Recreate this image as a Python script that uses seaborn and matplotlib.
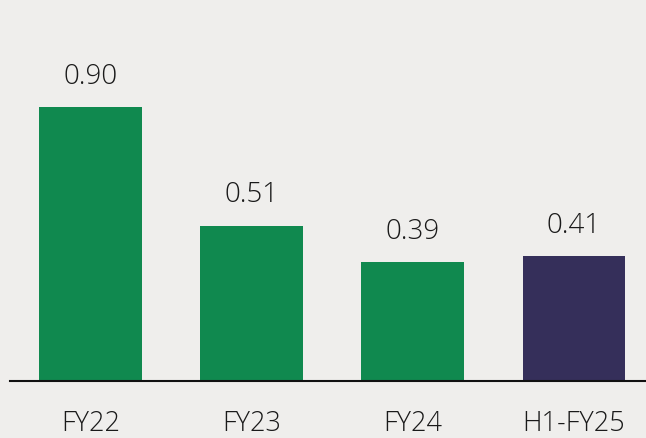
import matplotlib
matplotlib.use("Agg")
import matplotlib.pyplot as plt
import seaborn as sns
import pandas as pd

# --- data ---
periods = ["FY22", "FY23", "FY24", "H1-FY25"]
values = [0.90, 0.51, 0.39, 0.41]
bar_colors = ["#10894f", "#10894f", "#10894f", "#352f5a"]

df = pd.DataFrame({"period": periods, "value": values})

sns.set_style("white")
plt.rcParams["font.family"] = ["Open Sans", "DejaVu Sans"]

bg = "#efeeec"
fig = plt.figure(figsize=(6.46, 4.38), dpi=100, facecolor=bg)
ax = fig.add_axes([10 / 646, 0.130, 1 - 10 / 646, 0.833], facecolor=bg)

sns.barplot(data=df, x="period", y="value", hue="period", palette=bar_colors,
            legend=False, width=0.634, saturation=1, linewidth=0, ax=ax)

for i, v in enumerate(values):
    ax.annotate(f"{v:.2f}", (i, v), xytext=(0, 12), textcoords="offset points",
                ha="center", va="bottom", fontsize=20, fontweight="light",
                color="#1a1a1a")

ax.set_xlim(-0.5, 3.45)
ax.set_ylim(0, 1.2)
ax.set_xlabel("")
ax.set_ylabel("")
ax.set_yticks([])
for s in ["top", "left", "right"]:
    ax.spines[s].set_visible(False)
ax.spines["bottom"].set_color("#111111")
ax.spines["bottom"].set_linewidth(1.5)
ax.tick_params(axis="x", length=0, pad=21, labelsize=19.5, labelcolor="#1a1a1a")
for lbl in ax.get_xticklabels():
    lbl.set_fontweight("light")

fig.savefig("out.png", dpi=100, facecolor=bg)
